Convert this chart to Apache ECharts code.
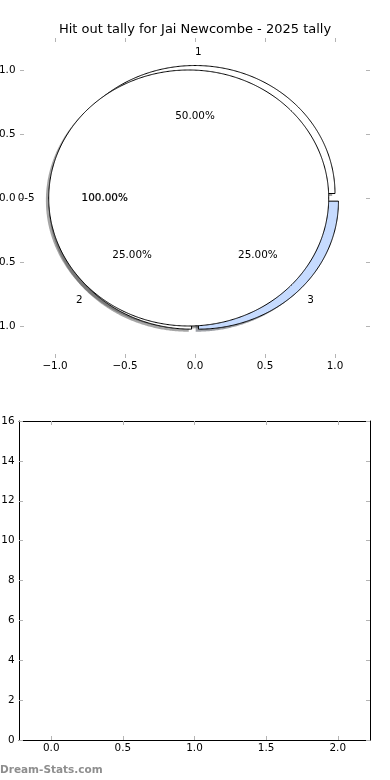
<!DOCTYPE html>
<html><head><meta charset="utf-8">
<script src="https://cdn.jsdelivr.net/npm/echarts@6/dist/echarts.min.js"></script>
<style>html,body{margin:0;padding:0;background:#fff}#c{width:390px;height:780px}</style>
</head><body><div id="c"></div>
<script>
// ---- data ----
const TITLE = 'Hit out tally for Jai Newcombe - 2025 tally';
const WATERMARK = 'Dream-Stats.com';
const outerLabels = ['1', '2', '3'];
const outerValues = [2, 1, 1];
const innerLabels = ['0-5'];
const innerValues = [1];
const pieTicks = [-1, -0.5, 0, 0.5, 1];
const bottomXTicks = [0, 0.5, 1, 1.5, 2];
const bottomYTicks = [0, 2, 4, 6, 8, 10, 12, 14, 16];

// ---- styles ----
const FONT = '"DejaVu Sans", Verdana, sans-serif';
const FS = 10.4;
const outerColors = ['#ffffff', '#ffffff', '#c6dbff'];
const innerColors = ['#ffffff'];
const R_OUT = 1.0, EXP_OUT = 0.035;
const R_IN = 1.0, EXP_IN = 0.045;
const SH = [-0.02, -0.02];
const TICK_COLOR = '#b4b4b4';

function fractions(vals) {
  const t = vals.reduce((a, b) => a + b, 0);
  let c = 0;
  return vals.map((v, i) => { const s = c; c += v / t; return [s, c, i]; });
}
const outerFr = fractions(outerValues);
const innerFr = fractions(innerValues);

function shadowColor(hex) {
  const n = parseInt(hex.slice(1), 16);
  const r = (n >> 16) & 255, g = (n >> 8) & 255, b = n & 255;
  return 'rgba(' + Math.round(r * 0.3) + ',' + Math.round(g * 0.3) + ',' + Math.round(b * 0.3) + ',0.5)';
}

function wedgeRender(R, E, colors, shadow) {
  return function (params, api) {
    const i = params.dataIndex;
    const f1 = api.value(0), f2 = api.value(1);
    const a1 = f1 * 2 * Math.PI, a2 = f2 * 2 * Math.PI, m = (a1 + a2) / 2;
    let cx = E * Math.cos(m), cy = E * Math.sin(m);
    if (shadow) { cx += SH[0]; cy += SH[1]; }
    const n = Math.max(8, Math.ceil((a2 - a1) / (Math.PI / 360)));
    const pts = [];
    for (let k = 0; k <= n; k++) {
      const a = a1 + (a2 - a1) * k / n;
      pts.push(api.coord([cx + R * Math.cos(a), cy + R * Math.sin(a)]));
    }
    const full = (f2 - f1) >= 0.999999;
    if (!full) pts.push(api.coord([cx, cy]));
    return {
      type: 'polygon',
      shape: { points: pts },
      style: shadow
        ? { fill: shadowColor(colors[i]), stroke: null, lineWidth: 0 }
        : { fill: colors[i], stroke: '#000', lineWidth: 1, lineJoin: 'miter' }
    };
  };
}

function labelRender(R, E, labels, values, boldPct) {
  const total = values.reduce((a, b) => a + b, 0);
  return function (params, api) {
    const i = params.dataIndex;
    const f1 = api.value(0), f2 = api.value(1);
    const m = (f1 + f2) * Math.PI;
    const cx = E * Math.cos(m), cy = E * Math.sin(m);
    const lp = api.coord([cx + 1.1 * R * Math.cos(m), cy + 1.1 * R * Math.sin(m)]);
    const pp = api.coord([cx + 0.6 * R * Math.cos(m), cy + 0.6 * R * Math.sin(m)]);
    const xt = cx + 1.1 * R * Math.cos(m);
    const ha = xt > 0 ? 'left' : 'right';
    const pct = (values[i] / total * 100).toFixed(2) + '%';
    const pctStyle = {
      text: pct, x: pp[0], y: pp[1], fill: '#000', font: FS + 'px ' + FONT,
      align: 'center', verticalAlign: 'middle', textAlign: 'center', textVerticalAlign: 'middle'
    };
    if (boldPct) { pctStyle.stroke = '#000'; pctStyle.lineWidth = 0.2; }
    return {
      type: 'group',
      children: [
        { type: 'text', style: { text: labels[i], x: lp[0], y: lp[1], fill: '#000', font: FS + 'px ' + FONT,
            align: ha, verticalAlign: 'middle', textAlign: ha, textVerticalAlign: 'middle' } },
        { type: 'text', style: pctStyle }
      ]
    };
  };
}

const fmtDec = v => (v < 0 ? '\u2212' : '') + Math.abs(v).toFixed(1);
const labelBase = { color: '#000', fontFamily: FONT, fontSize: FS };

function xAx(grid, min, max, pos, ticks, showLine, showLabel) {
  return {
    gridIndex: grid, type: 'value', min: min, max: max, position: pos,
    axisLine: { show: showLine, onZero: false, lineStyle: { color: '#000', width: 1 } },
    axisTick: { show: true, inside: true, length: 4, customValues: ticks, lineStyle: { color: TICK_COLOR, width: 1 } },
    axisLabel: Object.assign({ show: showLabel, customValues: ticks, formatter: fmtDec, margin: 3.5 }, labelBase),
    splitLine: { show: false }
  };
}
function yAx(grid, min, max, pos, ticks, showLine, showLabel, fmt) {
  return {
    gridIndex: grid, type: 'value', min: min, max: max, position: pos,
    axisLine: { show: showLine, onZero: false, lineStyle: { color: '#000', width: 1 } },
    axisTick: { show: true, inside: true, length: 4, customValues: ticks, lineStyle: { color: TICK_COLOR, width: 1 } },
    axisLabel: Object.assign({ show: showLabel, customValues: ticks, formatter: fmt, margin: 4.5 }, labelBase),
    splitLine: { show: false }
  };
}

const chart = echarts.init(document.getElementById('c'), null, { renderer: 'canvas' });
chart.setOption({
  animation: false,
  backgroundColor: '#fff',
  grid: [
    { left: 20, top: 38, width: 350, height: 320, show: false, containLabel: false, outerBoundsMode: 'none' },
    { left: 19, top: 421, width: 351, height: 319, show: false, containLabel: false, outerBoundsMode: 'none' }
  ],
  xAxis: [
    xAx(0, -1.25, 1.25, 'bottom', pieTicks, false, true),
    xAx(0, -1.25, 1.25, 'top', pieTicks, false, false),
    xAx(1, -0.225, 2.225, 'bottom', bottomXTicks, true, true),
    xAx(1, -0.225, 2.225, 'top', bottomXTicks, true, false)
  ],
  yAxis: [
    yAx(0, -1.25, 1.25, 'left', pieTicks, false, true, fmtDec),
    yAx(0, -1.25, 1.25, 'right', pieTicks, false, false, fmtDec),
    yAx(1, 0, 16, 'left', bottomYTicks, true, true, v => String(v)),
    yAx(1, 0, 16, 'right', bottomYTicks, true, false, v => String(v))
  ],
  graphic: [
    { type: 'text', x: 195, y: 30, style: { text: TITLE, fill: '#000', font: '13px ' + FONT,
        align: 'center', verticalAlign: 'middle', textAlign: 'center', textVerticalAlign: 'middle' } },
    { type: 'text', x: 0, y: 770, style: { text: WATERMARK, fill: '#8e8e8e', font: 'bold 10.5px ' + FONT,
        align: 'left', verticalAlign: 'middle', textAlign: 'left', textVerticalAlign: 'middle' } }
  ],
  series: [
    { type: 'custom', name: 'outerShadow', coordinateSystem: 'cartesian2d', xAxisIndex: 0, yAxisIndex: 0, z: 1,
      data: outerFr, renderItem: wedgeRender(R_OUT, EXP_OUT, outerColors, true), silent: true },
    { type: 'custom', name: 'innerShadow', coordinateSystem: 'cartesian2d', xAxisIndex: 0, yAxisIndex: 0, z: 1,
      data: innerFr, renderItem: wedgeRender(R_IN, EXP_IN, innerColors, true), silent: true },
    { type: 'custom', name: 'outer', coordinateSystem: 'cartesian2d', xAxisIndex: 0, yAxisIndex: 0, z: 2,
      data: outerFr, renderItem: wedgeRender(R_OUT, EXP_OUT, outerColors, false), silent: true },
    { type: 'custom', name: 'inner', coordinateSystem: 'cartesian2d', xAxisIndex: 0, yAxisIndex: 0, z: 3,
      data: innerFr, renderItem: wedgeRender(R_IN, EXP_IN, innerColors, false), silent: true },
    { type: 'custom', name: 'outerLabels', coordinateSystem: 'cartesian2d', xAxisIndex: 0, yAxisIndex: 0, z: 4,
      data: outerFr, renderItem: labelRender(R_OUT, EXP_OUT, outerLabels, outerValues, false), silent: true },
    { type: 'custom', name: 'innerLabels', coordinateSystem: 'cartesian2d', xAxisIndex: 0, yAxisIndex: 0, z: 4,
      data: innerFr, renderItem: labelRender(R_IN, EXP_IN, innerLabels, innerValues, true), silent: true }
  ]
});
</script></body></html>
